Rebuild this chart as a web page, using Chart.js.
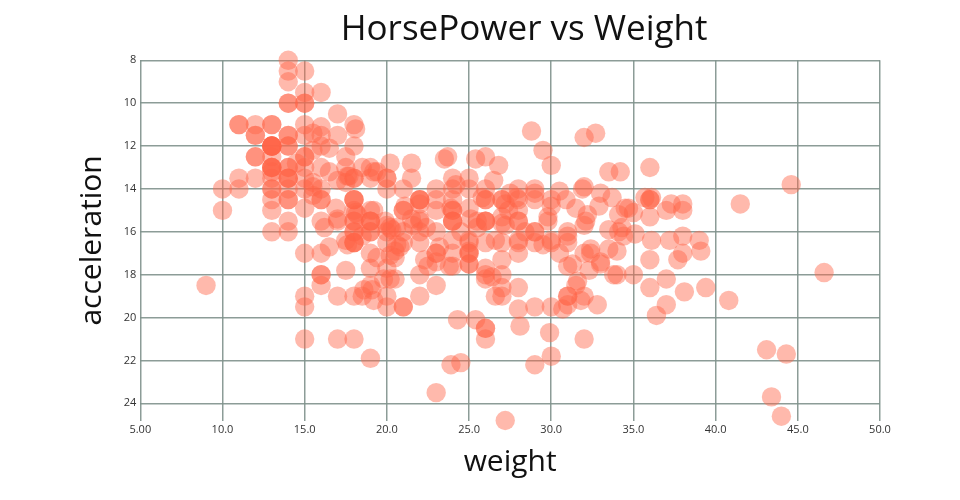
<!DOCTYPE html>
<html>
<head>
<meta charset="utf-8">
<script src="https://cdn.jsdelivr.net/npm/chart.js@4.4.1/dist/chart.umd.min.js"></script>
<style>
  html, body { margin: 0; padding: 0; background: #fff; }
  #wrap { width: 960px; height: 500px; }
</style>
</head>
<body>
<div id="wrap"><canvas id="c" width="960" height="500"></canvas></div>
<script>
const chartTitle = 'HorsePower vs Weight';
const xTitle = 'weight';
const yTitle = 'acceleration';

const weight = [
  18,15,18,16,17,15,14,14,14,15,15,14,15,14,
  24,22,18,21,27,26,25,24,25,26,21,10,10,11,9,27,28,25,
  19,16,17,19,18,14,14,14,14,12,13,13,18,22,19,18,23,28,30,30,31,35,27,26,
  24,25,23,20,21,13,14,15,14,17,11,13,12,13,19,15,13,13,14,18,22,21,26,22,28,23,28,27,
  13,14,13,14,15,12,13,13,14,13,12,13,18,16,18,18,23,26,11,12,13,12,18,20,21,22,18,19,21,26,15,16,29,24,20,19,15,24,20,11,20,
  19,15,31,26,32,25,16,16,18,16,13,14,14,14,29,26,26,31,32,28,24,26,24,26,31,
  19,18,15,15,16,15,16,14,17,16,15,18,21,20,13,29,23,20,23,24,25,24,18,29,19,23,23,22,25,33,
  28,25,25,26,27,17.5,16,15.5,14.5,22,22,24,22.5,29,24.5,29,33,20,18,18.5,17.5,29.5,32,28,26.5,20,13,19,19,16.5,16.5,13,13,13,
  31.5,30,36,25.5,33.5,17.5,17,15.5,15,17.5,20.5,19,18.5,16,15.5,15.5,16,29,24.5,26,25.5,30.5,33.5,30,30.5,22,21.5,21.5,
  43.1,36.1,32.8,39.4,36.1,19.9,19.4,20.2,19.2,20.5,20.2,25.1,20.5,19.4,20.6,20.8,18.6,18.1,19.2,17.7,18.1,17.5,30,27.5,27.2,30.9,21.1,23.2,23.8,23.9,20.3,17,21.6,16.2,31.5,29.5,
  21.5,19.8,22.3,20.2,20.6,17,17.6,16.5,18.2,16.9,15.5,19.2,18.5,31.9,34.1,35.7,27.4,25.4,23,27.2,23.9,34.2,34.5,31.8,37.3,28.4,28.8,26.8,33.5,
  41.5,38.1,32.1,37.2,28,26.4,24.3,19.1,34.3,29.8,31.3,37,32.2,46.6,27.9,40.8,44.3,43.4,36.4,30,44.6,
  33.8,29.8,32.7,23.7,35,
  32.4,27.2,26.6,25.8,23.5,30,39.1,39,35.1,32.3,37,37.7,34.1,34.7,34.4,29.9,33,
  33.7,32.4,32.9,31.6,28.1,30.7,25.4,24.2,22.4,26.6,20.2,17.6,28,27,34,31,29,27,24,
  36,37,31,38,36,36,36,34,38,32,38,25,38,26,22,32,36,27,27,44,32,28,31
];

const acceleration = [
  12,11.5,11,12,10.5,10,9,8.5,10,8.5,10,8,9.5,10,
  15,15.5,15.5,16,14.5,20.5,17.5,14.5,17.5,12.5,15,14,15,13.5,18.5,14.5,15.5,14,
  13,15.5,15.5,15.5,15.5,12,11.5,13.5,13,11.5,12,12,13.5,19,15,14.5,14,14,19.5,14.5,19,18,19,20.5,
  15.5,17,23.5,19.5,16.5,12,12,13.5,13,11.5,11,13.5,13.5,12.5,13.5,12.5,14,16,14,14.5,18,19.5,18,16,17,14.5,15,16.5,
  13,11.5,13,14.5,12.5,11.5,12,13,14.5,11,11,11,16.5,18,16,16.5,16,21,14,12.5,13,12.5,15,19,19.5,16.5,13.5,18.5,14,15.5,13,9.5,19.5,15.5,14,15.5,11,14,13.5,11,16.5,
  16,17,19,16.5,21,17,17,18,16.5,14,14.5,13.5,16,15.5,16.5,15.5,14.5,16.5,19,14.5,15.5,14,15,15.5,16,
  16,16,21,19.5,11.5,14,14.5,13.5,21,18.5,19,19,15,13.5,12,16,17,16,18.5,13.5,16.5,17,14.5,14,17,15,17,14.5,13.5,17.5,
  15.5,16.9,14.9,17.7,15.3,13,13,13.9,12.8,15.4,14.5,17.6,17.6,22.2,22.1,14.2,17.4,17.7,21,16.2,17.8,12.2,17,16.4,13.6,15.7,13.2,21.9,15.5,16.7,12.1,12,15,14,
  18.5,14.8,18.6,15.5,16.8,12.5,19,13.7,14.9,16.4,16.9,17.7,19,11.1,11.4,12.2,14.5,14.5,16,18.2,15.8,17,15.9,16.4,14.1,14.5,12.8,13.5,
  21.5,14.4,19.4,18.6,16.4,15.5,13.2,12.8,19.2,18.2,15.8,15.4,17.2,17.2,15.8,16.7,18.7,15.1,13.2,13.4,11.2,13.7,16.5,14.2,14.7,14.5,14.8,16.7,17.6,14.9,15.9,13.6,15.7,15.8,14.9,16.6,
  15.4,18.2,17.3,18.2,16.6,15.4,13.4,13.2,15.2,14.9,14.3,15,13,14,15.2,14.4,15,20.1,17.4,24.8,22.2,13.2,14.9,19.2,14.7,16,11.3,12.9,13.2,
  14.7,18.8,15.5,16.4,16.5,18.1,20.1,18.7,15.8,15.5,17.5,15,15.2,17.9,14.4,19.2,21.7,23.7,19.9,21.8,13.8,
  18,15.3,11.4,12.5,15.1,
  17,15.7,16.4,14.4,12.6,12.9,16.9,16.4,16.1,17.8,19.4,17.3,16,14.9,16.2,20.7,14.2,
  14.4,16.8,14.8,18.3,20.4,19.6,12.6,13.8,15.8,19,17.1,16.6,19.6,18.6,18,16.2,16,18,16.4,
  15.3,18.2,17.6,14.7,17.3,14.5,14.5,16.9,15,15.7,16.2,16.4,17,14.5,14.7,13.9,13,17.3,15.6,24.6,11.6,18.6,19.4
];

const xTicks = [5, 10, 15, 20, 25, 30, 35, 40, 45, 50];
const yTicks = [8, 10, 12, 14, 16, 18, 20, 22, 24];
const xRange = [5, 50];
const yRange = [8, 24.8];

const points = weight.map((w, i) => ({ x: w, y: acceleration[i] }));

const gridColor = 'rgba(128,145,140,0.9)';

const titlePlugin = {
  id: 'topTitle',
  afterDraw(chart) {
    const { ctx, chartArea } = chart;
    ctx.save();
    ctx.font = '35px "Open Sans"';
    ctx.fillStyle = '#111';
    ctx.textAlign = 'center';
    ctx.textBaseline = 'alphabetic';
    ctx.fillText(chartTitle, (chartArea.left + chartArea.right) / 2 + 14, 40);
    ctx.restore();
  }
};

new Chart(document.getElementById('c'), {
  type: 'scatter',
  data: {
    datasets: [{
      data: points,
      backgroundColor: 'rgba(255,99,71,0.45)',
      borderWidth: 0,
      pointRadius: 9.7,
      pointHoverRadius: 9.7,
      clip: false
    }]
  },
  options: {
    responsive: false,
    animation: false,
    events: [],
    layout: { padding: { top: 60.3, right: 80, left: 0, bottom: 0 } },
    plugins: {
      legend: { display: false },
      title: { display: false },
      tooltip: { enabled: false }
    },
    scales: {
      x: {
        type: 'linear',
        min: xRange[0], max: xRange[1],
        afterBuildTicks: s => { s.ticks = xTicks.map(v => ({ value: v })); },
        afterFit: s => { s.height = 79.5; },
        grid: { color: gridColor, lineWidth: 1.5, drawTicks: false },
        border: { display: false },
        ticks: {
          padding: 3,
          color: '#333',
          font: { family: 'Open Sans', size: 11 },
          maxRotation: 0,
          callback: v => v < 10 ? v.toFixed(2) : v.toFixed(1)
        },
        title: {
          display: true, text: xTitle, color: '#111',
          font: { family: 'Open Sans', size: 30 },
          padding: { top: 0, bottom: 19.6 }
        }
      },
      y: {
        type: 'linear',
        reverse: true,
        min: yRange[0], max: yRange[1],
        afterBuildTicks: s => { s.ticks = yTicks.map(v => ({ value: v })); },
        afterFit: s => { s.width = 140.3; },
        grid: { color: gridColor, lineWidth: 1.5, drawTicks: false },
        border: { display: false },
        ticks: {
          padding: 4,
          color: '#333',
          font: { family: 'Open Sans', size: 11 },
          callback: v => String(v)
        },
        title: {
          display: true, text: yTitle, color: '#111',
          font: { family: 'Open Sans', size: 30 },
          padding: { top: 74, bottom: 0 }
        }
      }
    }
  },
  plugins: [titlePlugin]
});
</script>
</body>
</html>
